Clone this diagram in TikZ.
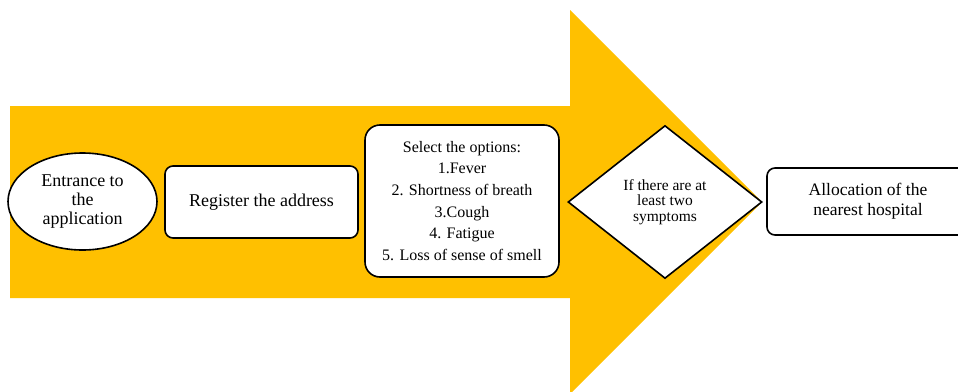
\documentclass[tikz,border=0pt]{standalone}
\usepackage{fontspec}
\setmainfont{Liberation Serif}
\usetikzlibrary{shapes.geometric}
\definecolor{arrowgold}{HTML}{FFC000}

\tikzset{
  stepbox/.style={draw, fill=white, rounded corners=8pt, align=center, inner sep=0pt},
}

\begin{document}
\begin{tikzpicture}[x=1pt, y=-1pt, line width=1.6pt]
  \useasboundingbox (0,0) rectangle (958,391);
  \clip (0,0) rectangle (958,391);

  % Big arrow in the background
  \fill[arrowgold] (10,106) -- (570,106) -- (570,10) -- (762,202)
                   -- (570,394) -- (570,298) -- (10,298) -- cycle;

  % Start
  \node[ellipse, draw, fill=white, minimum width=149pt, minimum height=97pt,
        inner sep=0pt, align=center, font=\fontsize{18}{19}\selectfont]
        (entry) at (82.5,201.5) {Entrance to\\the\\application};

  % Address
  \node[stepbox, minimum width=193pt, minimum height=72pt,
        font=\fontsize{18}{20}\selectfont]
        (address) at (261.5,202) {Register the address};

  % Symptoms list
  \node[stepbox, rounded corners=15pt, minimum width=194pt, minimum height=152pt,
        font=\fontsize{16}{21.7}\selectfont]
        (options) at (462,201) {Select the options:\\1.Fever\\2. Shortness of breath\\3.Cough\\4. Fatigue\\5. Loss of sense of smell};

  % Decision
  \node[diamond, draw, fill=white, minimum width=194pt, minimum height=153pt,
        inner sep=0pt, align=center, font=\fontsize{15.5}{15.5}\selectfont]
        (check) at (665,202) {If there are at\\least two\\symptoms};

  % Result
  \node[stepbox, minimum width=202pt, minimum height=67pt,
        font=\fontsize{17.5}{20}\selectfont]
        (hospital) at (868,201.5) {Allocation of the\\nearest hospital};
\end{tikzpicture}
\end{document}
